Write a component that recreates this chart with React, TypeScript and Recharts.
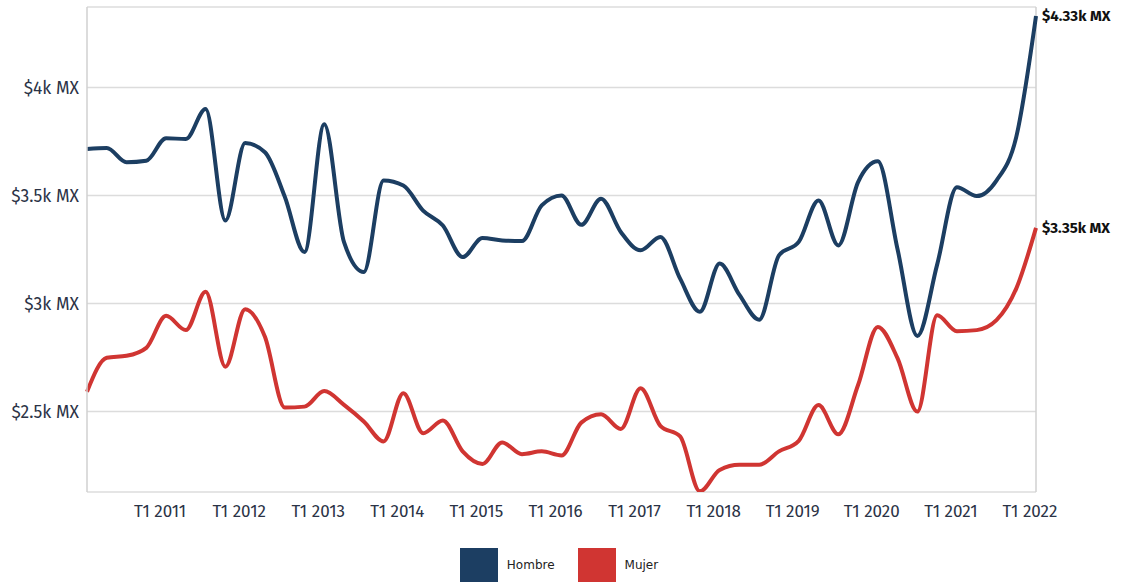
import React from 'react';
import {
  LineChart,
  Line,
  XAxis,
  YAxis,
  CartesianGrid,
  Legend,
  ReferenceLine,
  LabelList,
} from 'recharts';

// Trimestres T1 2010 ... T1 2022
const years = [2010, 2011, 2012, 2013, 2014, 2015, 2016, 2017, 2018, 2019, 2020, 2021, 2022];
const quarters = ['T1', 'T2', 'T3', 'T4'];
const periods = years.flatMap((y) => quarters.map((q) => `${q} ${y}`)).slice(0, 49);

const hombre = [
  3715, 3720, 3654, 3661, 3765, 3761, 3900, 3384, 3743, 3700, 3495, 3238, 3830, 3284, 3146,
  3569, 3546, 3430, 3361, 3215, 3303, 3292, 3289, 3454, 3500, 3364, 3485, 3331, 3246, 3308,
  3115, 2962, 3185, 3040, 2925, 3223, 3285, 3477, 3269, 3562, 3658, 3250, 2850, 3180, 3538,
  3497, 3569, 3770, 4330,
];

const mujer = [
  2592, 2749, 2758, 2795, 2943, 2877, 3054, 2708, 2974, 2846, 2519, 2523, 2595, 2531, 2454,
  2362, 2585, 2400, 2459, 2316, 2258, 2357, 2303, 2316, 2297, 2449, 2488, 2420, 2608, 2434,
  2385, 2131, 2230, 2254, 2254, 2316, 2365, 2530, 2395, 2623, 2892, 2746, 2500, 2946, 2872,
  2877, 2923, 3069, 3350,
];

const xTicks = [
  'T1 2011', 'T1 2012', 'T1 2013', 'T1 2014', 'T1 2015', 'T1 2016',
  'T1 2017', 'T1 2018', 'T1 2019', 'T1 2020', 'T1 2021', 'T1 2022',
];
const yTicks = [2500, 3000, 3500, 4000];

const BLUE = '#1c3e62';
const RED = '#d03532';
const TEXT = '#2b3346';
const FONT = "'Fira Sans', Roboto, 'Noto Sans', sans-serif";

const chartData = periods.map((p, i) => ({
  periodo: p,
  hombre: hombre[i],
  mujer: mujer[i],
}));

const lastIndex = chartData.length - 1;

const fmtK = (v: number) => `$${Math.round(v / 10) / 100}k MX`;

function EndLabel(props: any) {
  const { x, y, index, value } = props;
  if (index !== lastIndex) return null;
  return (
    <text
      x={x + 6}
      y={y}
      dy="0.35em"
      fill="#111"
      fontSize={15}
      fontWeight={700}
      fontFamily={FONT}
    >
      {fmtK(value)}
    </text>
  );
}

function LegendBox() {
  const items = [
    { label: 'Hombre', color: BLUE },
    { label: 'Mujer', color: RED },
  ];
  return (
    <div style={{ display: 'flex', justifyContent: 'center', paddingTop: 6, marginLeft: -4 }}>
      {items.map((it, i) => (
        <div
          key={it.label}
          style={{ display: 'flex', alignItems: 'center', marginRight: i === 0 ? 23 : 0 }}
        >
          <div style={{ width: 38, height: 34, background: it.color, marginRight: 9 }} />
          <span style={{ fontSize: 12, fontFamily: "'DejaVu Sans', sans-serif", color: '#222' }}>
            {it.label}
          </span>
        </div>
      ))}
    </div>
  );
}

export default function App() {
  return (
    <div style={{ position: 'absolute', left: 0, top: 0, width: 1122, height: 582, background: '#fff' }}>
      <LineChart
        width={1122}
        height={582}
        data={chartData}
        margin={{ top: 7, right: 86, left: 0, bottom: 0 }}
      >
        <CartesianGrid vertical={false} stroke="#dcdcdc" strokeWidth={1.5} />
        <XAxis
          dataKey="periodo"
          ticks={xTicks}
          interval={0}
          axisLine={false}
          tickLine={false}
          tickSize={0}
          tickMargin={13}
          height={50}
          tick={{ fill: TEXT, fontSize: 17, fontFamily: FONT, dx: -6 }}
        />
        <YAxis
          domain={[2128, 4372]}
          allowDataOverflow
          ticks={yTicks}
          tickFormatter={(v: number) => fmtK(v)}
          width={87}
          tickLine={false}
          tickSize={0}
          tickMargin={8}
          axisLine={{ stroke: '#d0d0d0', strokeWidth: 1.5 }}
          tick={{ fill: TEXT, fontSize: 17.5, fontFamily: FONT }}
        />
        <ReferenceLine x="T1 2022" stroke="#d0d0d0" strokeWidth={1.5} />
        <Legend
          verticalAlign="bottom"
          wrapperStyle={{ left: 0, width: 1122 }}
          content={() => <LegendBox />}
        />
        <Line
          type="monotone"
          dataKey="hombre"
          name="Hombre"
          stroke={BLUE}
          strokeWidth={4}
          dot={false}
          isAnimationActive={false}
        >
          <LabelList dataKey="hombre" content={EndLabel} />
        </Line>
        <Line
          type="monotone"
          dataKey="mujer"
          name="Mujer"
          stroke={RED}
          strokeWidth={4}
          dot={false}
          isAnimationActive={false}
        >
          <LabelList dataKey="mujer" content={EndLabel} />
        </Line>
      </LineChart>
    </div>
  );
}
